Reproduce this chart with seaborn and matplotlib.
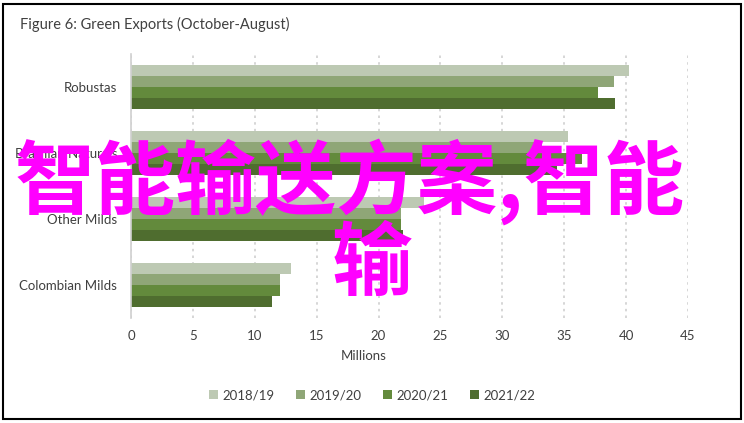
import pandas as pd
import matplotlib.pyplot as plt
import seaborn as sns
from matplotlib.patches import Rectangle

# values (millions of bags)
categories = ["Robustas", "Brazilian Naturals", "Other Milds", "Colombian Milds"]
seasons = ["2018/19", "2019/20", "2020/21", "2021/22"]
exports_2018_19 = [40.2, 35.3, 23.7, 12.9]
exports_2019_20 = [39.0, 33.2, 21.8, 12.0]
exports_2020_21 = [37.7, 36.4, 21.8, 12.0]
exports_2021_22 = [39.1, 34.4, 22.0, 11.4]
x_ticks = [0, 5, 10, 15, 20, 25, 30, 35, 40, 45]

palette = ["#bdc9b3", "#8fa677", "#638a3c", "#4f6d2f"]

rows = []
for season, vals in zip(seasons, [exports_2018_19, exports_2019_20,
                                  exports_2020_21, exports_2021_22]):
    for cat, v in zip(categories, vals):
        rows.append({"category": cat, "season": season, "value": v})
df = pd.DataFrame(rows)

sns.set_theme(style="white")
plt.rcParams["font.family"] = ["Lato", "DejaVu Sans"]

fig = plt.figure(figsize=(7.44, 4.23), dpi=100)
ax = fig.add_axes([131 / 744, 1 - 318 / 423, (688 - 131) / 744, (318 - 54) / 423])

sns.barplot(data=df, x="value", y="category", hue="season", orient="h",
            palette=palette, width=0.68, gap=0, saturation=1,
            edgecolor="none", linewidth=0, ax=ax, legend=True)

ax.set_xlim(0, 45)
ax.set_xticks(x_ticks)
ax.set_xticklabels([str(t) for t in x_ticks])
ax.set_xlabel("")
ax.set_ylabel("")
ax.grid(axis="x", linestyle=(0, (1.5, 2.5)), color="#d0d0d0", linewidth=1.2)
ax.set_axisbelow(True)
for s in ["top", "right", "bottom"]:
    ax.spines[s].set_visible(False)
ax.spines["left"].set_color("#d0d0d0")
ax.spines["left"].set_linewidth(1.2)
ax.tick_params(axis="both", length=0, labelsize=9.5, colors="#404040")
ax.tick_params(axis="x", pad=9)
ax.tick_params(axis="y", pad=10)

handles, labels = ax.get_legend_handles_labels()
ax.get_legend().remove()
fig.legend(handles, labels, loc="center", bbox_to_anchor=(0.5, 1 - 395 / 423),
           ncol=4, frameon=False, fontsize=9.5, handlelength=0.7, handleheight=0.7,
           handletextpad=0.35, columnspacing=1.6, labelcolor="#404040")

fig.text(364 / 744, 1 - 356 / 423, "Millions", ha="center", va="center",
         fontsize=9.5, color="#404040")
fig.text(20 / 744, 1 - 24 / 423, "Figure 6: Green Exports (October-August)",
         ha="left", va="center", fontsize=10.5, color="#404040")

# magenta overlay text
cjk = ["Noto Sans CJK SC", "DejaVu Sans"]
fig.text(15 / 744, 1 - 182 / 423, "智能输送方案,智能", ha="left", va="center",
         fontsize=58, color="#ff00ff", family=cjk, fontweight="bold")
fig.text(372 / 744, 1 - 265 / 423, "输", ha="center", va="center",
         fontsize=58, color="#ff00ff", family=cjk, fontweight="bold")

fig.patches.append(Rectangle((3 / 744, 4 / 423), 738 / 744, 415 / 423,
                             transform=fig.transFigure, fill=False,
                             edgecolor="black", linewidth=1.5))

fig.savefig("out.png", dpi=100)
